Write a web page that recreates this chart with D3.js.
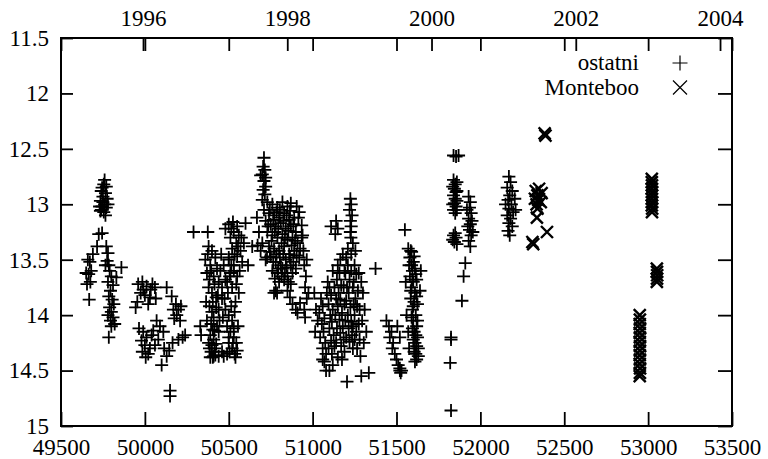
<!DOCTYPE html>
<html>
<head>
<meta charset="utf-8">
<script src="https://cdn.jsdelivr.net/npm/d3@7"></script>
<style>
  html, body { margin: 0; padding: 0; background: #fff; }
  svg { display: block; }
  text { font-family: "Liberation Serif", "Times New Roman", serif; font-size: 23px; fill: #000; }
</style>
</head>
<body>
<svg id="chart" width="768" height="459"></svg>
<script>
// Julian-date axis (bottom), magnitude axis (left, inverted), calendar-year axis (top)
const xTicks = [49500, 50000, 50500, 51000, 51500, 52000, 52500, 53000, 53500];
const yTicks = [11.5, 12, 12.5, 13, 13.5, 14, 14.5, 15];
const yearTicks = [1996, 1998, 2000, 2002, 2004];
const yearDomain = [1994.863, 2004.166];

// Observations: [JD - 2400000, magnitude]
const ostatni = [
  // 1995
  [49660,13.50],[49672,13.52],[49665,13.63],[49680,13.60],[49655,13.72],[49675,13.70],[49668,13.86],[49690,13.45],[49650,13.62],
  [49760,12.78],[49755,12.82],[49745,12.85],[49770,12.84],[49740,12.88],[49765,12.90],[49750,12.93],[49775,12.95],[49735,12.97],
  [49760,13.00],[49745,13.02],[49770,13.03],[49740,13.05],[49755,13.07],[49765,13.10],[49750,12.98],[49780,13.00],[49730,13.02],[49735,13.06],
  [49725,13.27],[49745,13.26],[49715,13.38],[49770,13.38],[49780,13.44],[49775,13.51],[49785,13.55],[49765,13.55],
  [49790,13.60],[49800,13.65],[49780,13.70],[49810,13.73],[49795,13.78],[49785,13.83],[49805,13.86],[49815,13.90],[49790,13.93],
  [49800,13.97],[49780,14.00],[49810,14.02],[49795,14.05],[49820,14.08],[49800,14.10],[49785,14.20],[49830,13.66],[49860,13.57],
  // 1995/96
  [49960,13.72],[49985,13.70],[50010,13.74],[50035,13.77],[50060,13.75],[49975,13.80],[50000,13.82],[50030,13.84],[49955,13.88],
  [50020,13.90],[49990,13.77],[50045,13.72],[49945,13.93],[50065,13.85],
  [50130,13.75],[50160,13.83],[50185,13.90],[50200,13.95],[50215,13.92],[50190,14.00],[50175,14.03],[50210,14.05],[50225,14.20],
  [50200,14.22],[50165,14.25],[50145,14.32],[50240,14.18],[50170,13.95],
  [49965,14.12],[49990,14.15],[50010,14.20],[50000,14.27],[49985,14.33],[50005,14.38],[50030,14.30],[50060,14.27],[50080,14.22],
  [50050,14.14],[50090,14.10],[50070,14.05],[50040,14.18],[50020,14.35],[50100,14.45],[50115,14.30],[50130,14.37],[50150,14.68],
  [50150,14.73],[49980,14.23],[50110,14.15],
  // 1996/97
  [50290,13.25],[50375,13.25],[50330,14.10],[50335,14.18],
  [50380,13.38],[50400,13.42],[50420,13.48],[50360,13.50],[50390,13.55],[50430,13.58],[50370,13.62],[50410,13.65],[50440,13.70],
  [50380,13.75],[50400,13.80],[50425,13.84],[50365,13.88],[50450,13.60],[50470,13.55],[50460,13.75],[50480,13.68],[50455,13.45],[50500,13.50],
  [50385,13.92],[50400,13.97],[50410,14.02],[50395,14.08],[50405,14.13],[50390,14.18],[50410,14.22],[50400,14.27],[50415,14.30],
  [50395,14.33],[50420,14.36],[50405,14.38],[50380,14.25],[50370,14.05],[50430,14.10],[50440,13.95],[50480,13.95],[50500,14.00],
  [50520,14.05],[50490,14.10],[50510,14.15],[50530,14.20],[50500,14.25],[50520,14.30],[50490,14.35],[50540,14.38],[50470,14.37],
  [50550,14.32],[50530,14.12],[50545,14.25],[50460,14.33],[50440,14.37],
  [50375,13.45],[50395,13.60],[50415,13.72],[50435,13.82],[50385,13.68],[50405,13.88],[50425,13.93],[50445,14.05],[50415,14.14],
  [50385,14.30],[50425,14.26],[50440,14.15],[50500,14.20],[50465,14.02],[50505,14.33],[50525,14.25],[50535,14.35],[50515,13.92],
  [50535,13.97],[50555,14.10],[50475,13.85],[50495,13.80],[50390,14.38],[50410,14.37],
  [50500,13.18],[50525,13.16],[50550,13.20],[50600,13.17],[50480,13.22],[50530,13.25],[50560,13.28],[50510,13.30],[50545,13.35],
  [50590,13.35],[50520,13.40],[50570,13.42],[50640,13.38],[50550,13.47],[50500,13.48],[50580,13.52],[50530,13.55],[50615,13.55],
  [50510,13.62],[50550,13.65],[50520,13.75],[50560,13.80],[50540,13.88],[50530,13.60],[50490,13.70],[50460,13.85],
  [50515,13.55],[50535,13.45],[50555,13.38],[50575,13.30],[50515,13.22],[50565,13.60],[50545,13.72],[50505,13.65],
  // 1997/98
  [50710,12.58],[50705,12.66],[50715,12.69],[50700,12.73],[50720,12.76],[50710,12.79],[50690,12.74],[50720,12.84],[50705,12.87],[50715,12.91],
  [50700,12.96],[50730,12.98],[50760,13.00],[50790,13.03],[50820,12.98],[50850,13.02],[50870,12.99],[50905,13.02],[50920,13.07],
  [50710,13.05],[50740,13.08],[50770,13.10],[50800,13.12],[50830,13.08],[50860,13.14],[50890,13.12],[50935,13.19],
  [50720,13.15],[50750,13.18],[50780,13.20],[50810,13.17],[50840,13.22],[50870,13.20],[50900,13.25],[50940,13.28],
  [50730,13.25],[50760,13.28],[50790,13.30],[50820,13.27],[50850,13.32],[50880,13.30],[50910,13.35],
  [50700,13.35],[50740,13.38],[50770,13.40],[50800,13.42],[50830,13.38],[50860,13.45],[50890,13.42],[50920,13.48],
  [50720,13.50],[50750,13.47],[50780,13.52],[50810,13.55],[50840,13.50],[50870,13.55],[50900,13.58],
  [50760,13.60],[50790,13.62],[50820,13.58],[50850,13.65],[50880,13.62],[50680,13.25],[50690,13.42],
  [50770,13.80],[50780,13.78],[50850,13.78],[50880,13.90],[50900,13.95],[50910,13.98],[50965,13.50],[50800,13.70],[50830,13.68],[50870,13.72],
  [50950,13.55],[50960,13.65],[50955,13.75],[50965,13.85],[50950,13.95],[50975,13.80],
  [50668,13.12],[50672,13.37],[50728,13.48],[50745,13.05],[50765,13.14],[50785,13.07],[50805,13.05],[50825,13.15],[50845,13.10],
  [50865,13.06],[50885,13.18],[50915,13.12],[50735,13.20],[50755,13.33],[50775,13.25],[50795,13.22],[50815,13.35],[50835,13.30],
  [50855,13.24],[50875,13.37],[50895,13.33],[50925,13.40],[50745,13.43],[50765,13.52],[50785,13.45],[50805,13.48],[50825,13.45],
  [50845,13.57],[50865,13.48],[50885,13.52],[50905,13.46],[50795,13.58],[50815,13.65],[50835,13.62],[50775,13.67],[50855,13.70],
  [50935,13.30],[50945,13.42],[50865,13.84],[50925,13.89],[50955,14.02],[50788,13.80],
  // 1998/99
  [51225,12.95],[51230,13.00],[51220,13.05],[51235,13.10],[51225,13.15],[51230,13.20],[51140,13.15],[51150,13.22],[51135,13.27],[51110,13.20],
  [51225,13.25],[51228,13.30],
  [51010,13.80],[51020,13.95],[51030,14.05],[51015,14.15],
  [51050,13.85],[51060,13.92],[51040,13.98],[51070,14.03],[51055,14.08],[51065,14.15],[51045,14.20],[51075,14.25],[51060,14.30],
  [51080,14.35],[51070,14.42],[51080,14.50],
  [51100,13.75],[51110,13.82],[51095,13.90],[51120,13.95],[51105,14.00],[51115,14.06],[51100,14.12],[51125,14.18],[51110,14.23],
  [51130,14.28],[51115,14.35],[51120,14.45],
  [51150,13.55],[51160,13.62],[51145,13.68],[51170,13.73],[51155,13.80],[51165,13.86],[51150,13.92],[51175,13.98],[51160,14.04],
  [51180,14.10],[51165,14.16],[51185,14.22],[51170,14.28],[51190,14.33],[51175,14.40],
  [51200,13.48],[51210,13.55],[51195,13.62],[51220,13.68],[51205,13.75],[51215,13.80],[51200,13.87],[51225,13.93],[51210,14.00],
  [51230,14.06],[51215,14.12],[51235,14.18],[51220,14.24],[51240,14.30],
  [51250,13.55],[51260,13.63],[51245,13.70],[51270,13.78],[51255,13.85],[51265,13.92],[51250,14.00],[51275,14.08],[51260,14.15],
  [51280,14.22],[51265,14.30],[51285,14.37],
  [51300,13.80],[51310,13.95],[51295,14.05],[51320,14.15],[51305,14.25],[51240,13.35],[51255,13.42],[51180,13.45],[51120,13.60],
  [51090,13.70],[51375,13.58],[51100,14.50],[51205,14.60],[51290,14.55],[51335,14.52],
  [51085,13.80],[51130,13.75],[51140,13.85],[51135,14.00],[51145,14.12],[51140,14.25],[51150,14.38],[51190,13.60],[51185,13.75],
  [51190,13.90],[51195,14.05],[51200,14.20],[51230,13.60],[51240,13.75],[51245,13.90],[51240,14.10],[51250,14.22],[51280,13.95],
  [51290,13.70],[51275,13.62],[51095,14.30],[51060,14.40],[51230,13.45],[51210,13.40],[51165,13.50],
  // 1999/2000
  [51550,13.23],[51570,13.40],[51590,13.43],[51580,13.48],[51600,13.52],[51575,13.55],[51595,13.60],[51610,13.58],[51580,13.65],
  [51600,13.70],[51620,13.68],[51590,13.75],[51610,13.80],[51585,13.85],[51605,13.88],[51625,13.90],[51595,13.95],[51615,14.00],
  [51600,14.05],[51620,14.10],[51605,14.15],[51625,14.20],[51610,14.25],[51630,14.30],[51615,14.35],[51620,14.40],[51570,14.15],
  [51575,14.30],[51560,14.00],[51555,13.70],[51640,13.78],[51645,13.60],
  [51585,13.42],[51605,13.47],[51590,13.55],[51615,13.63],[51595,13.68],[51585,13.78],[51620,13.83],[51600,13.92],[51590,14.02],
  [51625,14.05],[51595,14.12],[51615,14.18],[51600,14.22],[51620,14.28],[51605,14.33],[51630,14.37],[51610,14.42],
  [51440,14.05],[51455,14.10],[51470,14.15],[51460,14.20],[51480,14.25],[51475,14.30],[51490,14.35],[51500,14.40],[51510,14.45],
  [51520,14.50],[51530,14.50],[51520,14.20],[51505,14.10],[51520,14.48],[51525,14.52],
  // 2000/01
  [51840,12.56],[51870,12.56],[51855,12.57],
  [51840,12.78],[51850,12.82],[51845,12.86],[51855,12.89],[51840,12.92],[51850,12.95],[51845,12.99],[51855,13.02],[51840,13.05],
  [51850,13.08],[51860,12.80],[51860,12.88],[51860,12.97],[51860,13.05],[51835,12.84],[51835,13.00],
  [51840,13.28],[51855,13.30],[51845,13.34],[51860,13.36],[51835,13.32],[51850,13.26],
  [51930,12.93],[51940,12.98],[51935,13.03],[51945,13.08],[51930,13.13],[51940,13.18],[51935,13.23],[51945,13.28],[51930,13.33],
  [51940,13.38],[51950,13.15],[51955,13.25],[51920,13.05],[51925,13.20],
  [51910,13.53],[51900,13.65],[51890,13.87],
  [51825,14.20],[51825,14.22],[51820,14.43],[51825,14.86],
  // 2001/02
  [52170,12.75],[52180,12.80],[52160,12.85],[52190,12.88],[52175,12.92],[52165,12.96],[52185,13.00],[52170,13.04],[52195,13.07],
  [52160,13.10],[52180,13.13],[52170,13.17],[52190,13.20],[52165,13.24],[52175,13.28],[52205,12.95],[52150,13.00],[52210,13.05]
];

const monteboo = [
  [52383,12.36],[52388,12.38],
  [52330,12.88],[52340,12.92],[52350,12.86],[52365,12.90],[52345,12.96],[52335,13.00],[52360,12.98],[52340,13.04],[52325,12.95],
  [52337,13.12],[52397,13.25],[52310,13.34],[52315,13.36],
  [53022,12.77],[53022,12.80],[53023,12.83],[53022,12.86],[53024,12.89],[53023,12.92],[53022,12.95],[53023,12.98],[53022,13.01],
  [53024,13.04],[53023,13.07],
  [53052,13.58],[53053,13.61],[53054,13.64],[53053,13.67],[53052,13.70],
  [52950,14.00],[52951,14.04],[52950,14.08],[52952,14.12],[52950,14.16],[52951,14.20],[52950,14.24],[52952,14.28],[52951,14.32],
  [52950,14.36],[52951,14.40],[52950,14.44],[52952,14.48],[52951,14.52],[52950,14.55]
];

const legendLabels = ["ostatni", "Monteboo"];

const svg = d3.select("#chart");
const plotLeft = 61, plotRight = 732, plotTop = 38, plotBottom = 426;

const x = d3.scaleLinear().domain([49500, 53500]).range([plotLeft, plotRight]);
const y = d3.scaleLinear().domain([11.5, 15]).range([plotTop, plotBottom]);
const x2 = d3.scaleLinear().domain(yearDomain).range([plotLeft, plotRight]);

const plusPath = s => `M${-s},0H${s}M0,${-s}V${s}`;
const crossPath = s => `M${-s},${-s}L${s},${s}M${-s},${s}L${s},${-s}`;

function styleAxis(g) {
  g.select(".domain").remove();
  g.selectAll(".tick line").attr("stroke", "#000").attr("stroke-width", 1.8);
  g.selectAll("text").attr("font-family", null).attr("font-size", null);
}

// bottom axis with labels
svg.append("g").attr("transform", `translate(0,${plotBottom})`)
  .call(d3.axisBottom(x).tickValues(xTicks).tickSize(-14).tickPadding(13).tickFormat(d3.format("d")))
  .call(styleAxis);

// mirrored tick marks on top
svg.append("g").attr("transform", `translate(0,${plotTop})`)
  .call(d3.axisTop(x).tickValues(xTicks).tickSize(-13).tickFormat(""))
  .call(styleAxis);

// calendar-year axis on top
svg.append("g").attr("transform", `translate(0,${plotTop})`)
  .call(d3.axisTop(x2).tickValues(yearTicks).tickSize(-13).tickPadding(12).tickFormat(d3.format("d")))
  .call(styleAxis);

// left axis with labels
svg.append("g").attr("transform", `translate(${plotLeft},0)`)
  .call(d3.axisLeft(y).tickValues(yTicks).tickSize(-12).tickPadding(12).tickFormat(d => d))
  .call(styleAxis);

// mirrored tick marks on the right
svg.append("g").attr("transform", `translate(${plotRight},0)`)
  .call(d3.axisRight(y).tickValues(yTicks).tickSize(-14).tickFormat(""))
  .call(styleAxis);

// frame
svg.append("rect")
  .attr("x", plotLeft).attr("y", plotTop)
  .attr("width", plotRight - plotLeft).attr("height", plotBottom - plotTop)
  .attr("fill", "none").attr("stroke", "#000").attr("stroke-width", 2);

// data points
svg.append("g").selectAll("path").data(ostatni).join("path")
  .attr("transform", d => `translate(${x(d[0])},${y(d[1])})`)
  .attr("d", plusPath(6.5))
  .attr("fill", "none").attr("stroke", "#000").attr("stroke-width", 1.8);

svg.append("g").selectAll("path").data(monteboo).join("path")
  .attr("transform", d => `translate(${x(d[0])},${y(d[1])})`)
  .attr("d", crossPath(6))
  .attr("fill", "none").attr("stroke", "#000").attr("stroke-width", 2.4);

// legend
const legend = svg.append("g");
legendLabels.forEach((label, i) => {
  const cy = 63 + i * 24.5;
  legend.append("text").attr("x", 639).attr("y", cy).attr("dy", "0.32em")
    .attr("text-anchor", "end").text(label);
  legend.append("path")
    .attr("transform", `translate(680,${cy})`)
    .attr("d", i === 0 ? plusPath(7.5) : crossPath(7))
    .attr("fill", "none").attr("stroke", "#000").attr("stroke-width", 1.2);
});
</script>
</body>
</html>
